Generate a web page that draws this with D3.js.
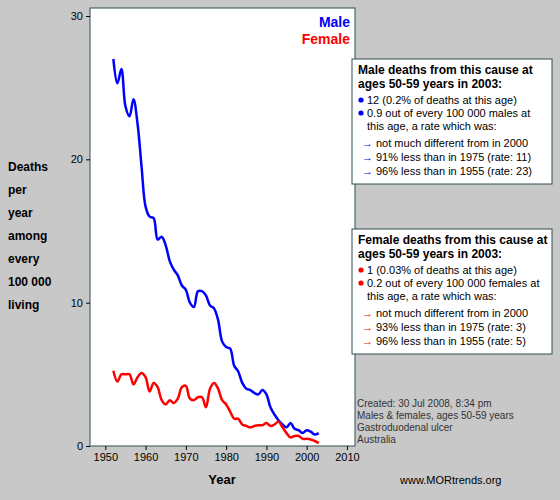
<!DOCTYPE html>
<html><head><meta charset="utf-8">
<script src="https://cdn.jsdelivr.net/npm/d3@7"></script>
<style>body{margin:0;background:#c8c8c8;font-family:Arial,"Liberation Sans",sans-serif}</style>
</head><body>
<svg id="chart" width="560" height="500"></svg>
<script>
// Datos
let years = d3.range(1952, 2004);
let male = [27.0,25.3,26.3,23.7,23.0,24.2,22.5,19.5,16.7,16.0,15.9,14.4,14.6,14.0,12.9,12.3,11.9,11.2,10.9,10.0,
  9.7,10.8,10.8,10.5,9.8,9.6,8.8,7.3,6.9,6.8,5.6,5.2,4.4,4.0,3.9,3.7,3.6,3.9,3.6,2.7,
  2.2,1.8,1.5,1.3,1.6,1.2,1.1,0.9,1.1,1.0,0.8,0.9];
let female = [5.25,4.5,5.0,5.0,5.0,4.3,4.8,5.1,4.8,3.8,4.4,4.1,3.2,2.9,3.2,3.0,3.3,4.1,4.2,3.3,
  3.2,3.4,3.4,2.7,4.0,4.4,4.0,3.2,2.9,2.4,1.9,1.9,1.5,1.4,1.3,1.4,1.45,1.45,1.6,1.4,
  1.5,1.7,1.3,0.9,0.6,0.7,0.7,0.5,0.5,0.45,0.35,0.2];
let xTicks = [1950,1960,1970,1980,1990,2000,2010];
let yTicks = [0,10,20,30];
let yLabel = ["Deaths","per","year","among","every","100 000","living"];
let maleLines = ["12 (0.2% of deaths at this age)","0.9 out of every 100 000 males at","this age, a rate which was:"];
let maleArrows = ["not much different from in 2000","91% less than in 1975 (rate: 11)","96% less than in 1955 (rate: 23)"];
let femaleLines = ["1 (0.03% of deaths at this age)","0.2 out of every 100 000 females at","this age, a rate which was:"];
let femaleArrows = ["not much different from in 2000","93% less than in 1975 (rate: 3)","96% less than in 1955 (rate: 5)"];
let notes = ["Created: 30 Jul 2008, 8:34 pm","Males & females, ages 50-59 years","Gastroduodenal ulcer","Australia"];

let svg = d3.select("#chart");
let x = d3.scaleLinear().domain([1946.2, 2012]).range([90, 355]);
let y = d3.scaleLinear().domain([0, 30]).range([446, 16]);

svg.append("rect").attr("x", 90).attr("y", 8).attr("width", 265).attr("height", 438)
  .attr("fill", "white").attr("stroke", "#2f4f4f");

svg.append("g").attr("transform", "translate(0,446)")
  .call(d3.axisBottom(x).tickValues(xTicks).tickFormat(d3.format("d")).tickSize(4))
  .call(g => g.selectAll("text").attr("font-size", 11).attr("fill", "#000").attr("font-family", "Arial"))
  .call(g => g.select(".domain").remove());
svg.append("g").attr("transform", "translate(90,0)")
  .call(d3.axisLeft(y).tickValues(yTicks).tickSize(4))
  .call(g => g.selectAll("text").attr("font-size", 11).attr("fill", "#000").attr("font-family", "Arial"))
  .call(g => g.select(".domain").remove());

let line = d3.line().x((d, i) => x(years[i])).y(d => y(d)).curve(d3.curveCatmullRom);
svg.append("path").datum(male).attr("d", line).attr("fill", "none").attr("stroke", "#0000ff").attr("stroke-width", 2.5);
svg.append("path").datum(female).attr("d", line).attr("fill", "none").attr("stroke", "#ff0000").attr("stroke-width", 2.5);

svg.append("text").attr("x", 350).attr("y", 27).attr("text-anchor", "end").attr("font-weight", "bold")
  .attr("font-size", 14).attr("fill", "#0000ff").text("Male");
svg.append("text").attr("x", 350).attr("y", 44).attr("text-anchor", "end").attr("font-weight", "bold")
  .attr("font-size", 14).attr("fill", "#ff0000").text("Female");

svg.append("text").attr("x", 222).attr("y", 484).attr("text-anchor", "middle").attr("font-weight", "bold")
  .attr("font-size", 13).text("Year");

svg.selectAll(".ylab").data(yLabel).enter().append("text")
  .attr("x", 8).attr("y", (d, i) => 171 + i * 23).attr("font-weight", "bold").attr("font-size", 12).text(d => d);

// Cajas de información
function infoBox(top, title, lines, arrows, color) {
  svg.append("rect").attr("x", 352).attr("y", top).attr("width", 200).attr("height", 125)
    .attr("fill", "white").attr("stroke", "#2f4f4f");
  title.forEach((t, i) => svg.append("text").attr("x", 358).attr("y", top + 15 + i * 14)
    .attr("font-weight", "bold").attr("font-size", 12).text(t));
  lines.forEach((t, i) => {
    let yy = top + 45 + i * 13 + (i > 1 ? 0 : 0);
    if (i < 2) svg.append("circle").attr("cx", 361).attr("cy", yy - 4).attr("r", 2.6).attr("fill", color);
    svg.append("text").attr("x", 367).attr("y", yy).attr("font-size", 11).text(t);
  });
  arrows.forEach((t, i) => {
    let yy = top + 88 + i * 14;
    svg.append("text").attr("x", 362).attr("y", yy).attr("font-size", 11).attr("fill", color).text("→");
    svg.append("text").attr("x", 376).attr("y", yy).attr("font-size", 11).text(t);
  });
}
infoBox(59, ["Male deaths from this cause at", "ages 50-59 years in 2003:"], maleLines, maleArrows, "#0000ff");
infoBox(229, ["Female deaths from this cause at", "ages 50-59 years in 2003:"], femaleLines, femaleArrows, "#ff0000");

svg.selectAll(".note").data(notes).enter().append("text")
  .attr("x", 357).attr("y", (d, i) => 407 + i * 12).attr("font-size", 10).attr("fill", "#333").text(d => d);
svg.append("text").attr("x", 400).attr("y", 484).attr("font-size", 11).text("www.MORtrends.org");
</script>
</body></html>
